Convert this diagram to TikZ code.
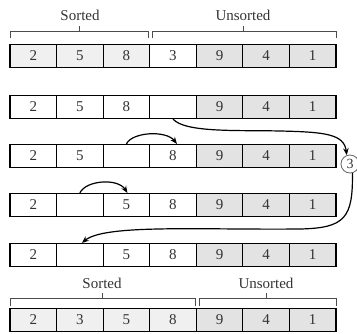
\documentclass[tikz,border=0pt]{standalone}
\usepackage{fontspec}
\setmainfont{Liberation Serif}
\usetikzlibrary{arrows.meta}
\begin{document}
\begin{tikzpicture}[x=1pt,y=-1pt,
  cell/.style={draw, line width=1.1pt, minimum width=46.57pt, minimum height=23pt, inner sep=0pt, text=black!80, font=\fontsize{15}{15}\selectfont},
  sc/.style={fill=black!6},
  uc/.style={fill=black!11},
  wc/.style={fill=white},
  brk/.style={draw=black!70, line width=0.7pt},
  lbl/.style={font=\fontsize{15}{15}\selectfont, text=black!80, inner sep=0pt},
  arr/.style={line width=1.2pt, -{Stealth[length=7pt,width=5.5pt]}}]
\useasboundingbox (0,0) rectangle (357,333);
% rows
\foreach \f/\v [count=\i] in {sc/2,sc/5,sc/8,wc/3,uc/9,uc/4,uc/1}
  \node[cell,\f] (r1c\i) at ({10+46.57*(\i-0.5)},56) {\v};
\foreach \f/\v [count=\i] in {wc/2,wc/5,wc/8,wc/{},uc/9,uc/4,uc/1}
  \node[cell,\f] (r2c\i) at ({10+46.57*(\i-0.5)},107) {\v};
\foreach \f/\v [count=\i] in {wc/2,wc/5,wc/{},wc/8,uc/9,uc/4,uc/1}
  \node[cell,\f] (r3c\i) at ({10+46.57*(\i-0.5)},156) {\v};
\foreach \f/\v [count=\i] in {wc/2,wc/{},wc/5,wc/8,uc/9,uc/4,uc/1}
  \node[cell,\f] (r4c\i) at ({10+46.57*(\i-0.5)},205) {\v};
\foreach \f/\v [count=\i] in {wc/2,wc/{},wc/5,wc/8,uc/9,uc/4,uc/1}
  \node[cell,\f] (r5c\i) at ({10+46.57*(\i-0.5)},255) {\v};
\foreach \f/\v [count=\i] in {sc/2,sc/3,sc/5,sc/8,uc/9,uc/4,uc/1}
  \node[cell,\f] (r6c\i) at ({10+46.57*(\i-0.5)},320) {\v};
% top brackets
\draw[brk] (10,38) -- (10,31) -- (148,31) -- (148,38);
\draw[brk] (79,31) -- (79,26);
\draw[brk] (152,38) -- (152,31) -- (336,31) -- (336,38);
\draw[brk] (243,31) -- (243,26);
\node[lbl] (s1) at (80,15) {Sorted};
\node[lbl] (u1) at (243,15) {Unsorted};
% bottom brackets
\draw[brk] (10,306) -- (10,298) -- (195,298) -- (195,306);
\draw[brk] (102,298) -- (102,293);
\draw[brk] (199,306) -- (199,298) -- (336,298) -- (336,306);
\draw[brk] (266,298) -- (266,293);
\node[lbl] (s2) at (102,283) {Sorted};
\node[lbl] (u2) at (266,283) {Unsorted};
% circle
\node[draw=black!60, line width=0.8pt, circle, minimum size=18pt, inner sep=0pt, text=black!80, font=\fontsize{14}{14}\selectfont] (c3) at (350,164) {3};
% arrows
\draw[arr] (r2c4.south) .. controls (185,133) and (240,130) .. (280,131) .. controls (325,132) and (344,134) .. (c3.110);
\draw[arr] (r3c3.north) .. controls (132,132) and (166,130) .. ([xshift=4pt]r3c4.north);
\draw[arr] (r4c2.north) .. controls (86,180) and (118,178) .. ([xshift=1pt]r4c3.north);
\draw[arr] (c3.285) .. controls (353,218) and (345,228) .. (300,229) .. controls (200,230) and (105,224) .. ([xshift=2pt]r5c2.north);
\end{tikzpicture}
\end{document}
